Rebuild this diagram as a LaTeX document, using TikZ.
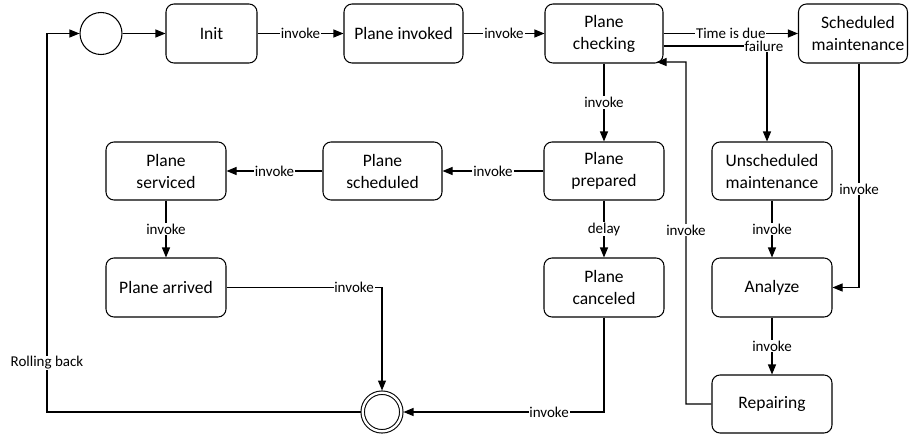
\documentclass[tikz,border=0pt]{standalone}
\usepackage{fontspec}
\setmainfont{Carlito}
\usetikzlibrary{arrows.meta,calc}
\begin{document}
\begin{tikzpicture}[x=1pt,y=-1pt,
  every path/.style={line width=1.05pt},
  state/.style={draw, rectangle, rounded corners=8pt, minimum height=59pt, inner sep=0pt,
    align=center, font=\fontsize{17.5}{22}\selectfont},
  lbl/.style={fill=white, inner sep=0.8pt, font=\fontsize{15}{18}\selectfont},
  arr/.style={-{Triangle[length=10pt,width=8pt]}},
  initst/.style={draw, circle, minimum size=42pt, inner sep=0pt},
  finalst/.style={draw, circle, double, double distance=2.4pt, minimum size=38.6pt, inner sep=0pt, outer sep=2.2pt}]
\useasboundingbox (0,0) rectangle (910,439);

% states
\node[initst] (start) at (101,33.5) {};
\node[state, minimum width=91pt] (init) at (211.5,33.5) {Init};
\node[state, minimum width=119pt] (pinv) at (403.5,33.5) {Plane invoked};
\node[state, minimum width=118pt] (pchk) at (604,33.5) {Plane\\checking};
\node[state, minimum width=109pt] (smaint) at (853,33.5) {\hspace*{10pt}Scheduled\\\hspace*{10pt}maintenance};

\node[state, minimum width=120pt, minimum height=58pt] (pserv) at (166,171) {Plane\\serviced};
\node[state, minimum width=119pt, minimum height=58pt] (psched) at (382.5,171) {Plane\\scheduled};
\node[state, minimum width=120pt, minimum height=58pt] (pprep) at (604,171) {Plane\\prepared};
\node[state, minimum width=120pt, minimum height=58pt] (umaint) at (772,171) {Unscheduled\\maintenance};

\node[state, minimum width=120pt] (parr) at (166,287.5) {Plane arrived};
\node[state, minimum width=120pt] (pcanc) at (604,287.5) {Plane\\canceled};
\node[state, minimum width=120pt] (analyze) at (772,287.5) {Analyze};
\node[state, minimum width=120pt, minimum height=58pt] (repair) at (772,404) {Repairing};

\node[finalst] (end) at (382,412) {};

% helper coordinates
\coordinate (rbk) at (47,33.5);
\coordinate (rep) at (686,62);

% transitions
\draw[arr] (start) -- (init);
\draw[arr] (init) -- node[lbl]{invoke} (pinv);
\draw[arr] (pinv) -- node[lbl]{invoke} (pchk);
\draw[arr] (pchk.east) -- node[lbl]{Time is due} (smaint.west);
\draw[arr] ([yshift=-12.5pt]pchk.east) -| node[lbl,pos=0.5,xshift=-3pt]{failure} ([xshift=-5pt]umaint.north);
\draw[arr] (pchk) -- node[lbl]{invoke} (pprep);
\draw[arr] (pprep) -- node[lbl]{invoke} (psched);
\draw[arr] (psched) -- node[lbl]{invoke} (pserv);
\draw[arr] (pserv) -- node[lbl]{invoke} (parr);
\draw[arr] (parr.east) -| node[lbl,pos=0.41]{invoke} (end.north);
\draw[arr] (pprep) -- node[lbl]{delay} (pcanc);
\draw[arr] (pcanc.south) |- node[lbl,pos=0.637]{invoke} (end.east);
\draw[arr] (repair.west) -| node[lbl,pos=0.754]{invoke} (rep) -- ([xshift=-7pt,yshift=1.5pt]pchk.south east);
\draw[arr] ([xshift=6pt]smaint.south) |- node[lbl,pos=0.28]{invoke} (analyze.east);
\draw[arr] (umaint) -- node[lbl]{invoke} (analyze);
\draw[arr] (analyze) -- node[lbl]{invoke} (repair);
\draw[arr] (end.west) -| node[lbl,pos=0.565]{Rolling back} (rbk) -- (start.west);
\end{tikzpicture}
\end{document}
